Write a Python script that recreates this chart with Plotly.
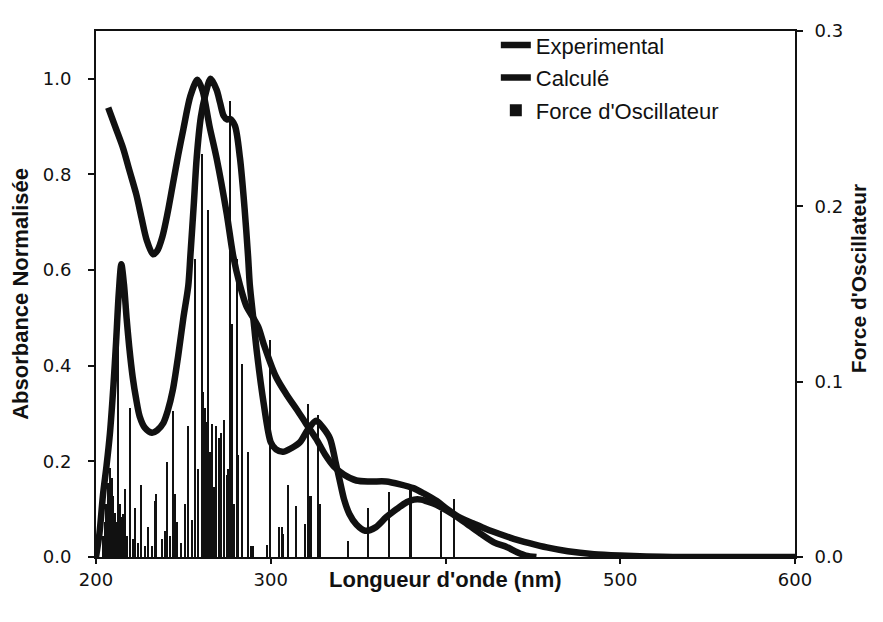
import plotly.graph_objects as go

# ---- Data ----
exp_x = [207, 211, 215.6, 219, 223, 226, 229, 232.6, 235, 238, 241, 244, 247, 250, 254, 258, 261, 265, 269,
         274.8, 278.5, 282.4, 286, 290, 293, 296, 303, 309, 315, 320, 326, 331, 336, 342, 349, 357, 366,
         374, 381.6, 388, 395, 401, 408, 416, 423.6, 431, 439, 448, 458, 470, 485, 500, 515, 530, 560, 600]
exp_y = [0.94, 0.90, 0.854, 0.81, 0.759, 0.71, 0.663, 0.633, 0.64, 0.67, 0.72, 0.78, 0.84, 0.895, 0.964,
         0.998, 0.975, 0.90, 0.834, 0.718, 0.63, 0.568, 0.525, 0.50, 0.48, 0.445, 0.377, 0.34, 0.308, 0.28,
         0.247, 0.215, 0.19, 0.172, 0.16, 0.158, 0.158, 0.152, 0.144, 0.132, 0.117, 0.10, 0.083, 0.07,
         0.058, 0.048, 0.038, 0.029, 0.02, 0.012, 0.006, 0.003, 0.001, 0.0, 0.0, 0.0]

calc_x = [200, 202, 204, 206, 208, 210, 211.5, 213, 214.5, 216, 217.5, 219, 221, 223, 225, 228, 232, 235,
          238.5, 241, 244, 247, 250, 252.8, 254, 256, 257.6, 260, 262.4, 265.6, 269, 271, 273, 275, 276.7,
          279.5, 282.4, 285, 287, 288, 290, 292, 296, 300, 303, 307, 312, 316.7, 321, 326, 330, 334, 337,
          339.6, 342, 345, 349, 354, 360, 366, 372, 378, 382, 386, 389, 393, 397, 404, 412, 420, 428, 435,
          441, 446, 452]
calc_y = [0.0, 0.05, 0.13, 0.19, 0.26, 0.36, 0.45, 0.55, 0.612, 0.57, 0.50, 0.44, 0.376, 0.33, 0.294, 0.27,
          0.26, 0.265, 0.28, 0.305, 0.35, 0.42, 0.5, 0.567, 0.63, 0.74, 0.834, 0.92, 0.964, 1.0, 0.977,
          0.95, 0.923, 0.915, 0.916, 0.902, 0.834, 0.73, 0.63, 0.57, 0.50, 0.43, 0.32, 0.24, 0.225, 0.22,
          0.228, 0.24, 0.265, 0.285, 0.27, 0.247, 0.2, 0.158, 0.12, 0.09, 0.068, 0.055, 0.062, 0.083, 0.10,
          0.115, 0.12, 0.12, 0.117, 0.112, 0.105, 0.09, 0.07, 0.049, 0.03, 0.021, 0.01, 0.003, 0.0]

osc_x = [204.0, 205.0, 206.0, 207.0, 208.0, 209.0, 210.0, 211.0, 212.0, 212.8, 213.8, 215.0, 215.6, 216.6,
         218.0, 219.5, 221.0, 222.3, 224.0, 226.1, 228.0, 230.0, 232.0, 233.8, 234.7, 237.6, 239.5, 240.5,
         242.5, 244.2, 245.2, 246.2, 249.0, 251.0, 252.8, 254.8, 256.7, 258.5, 260.5, 261.4, 262.3, 263.3,
         264.3, 265.3, 266.2, 267.5, 269.0, 270.6, 271.9, 273.2, 274.8, 275.7, 276.7, 277.7, 279.0, 280.8,
         281.6, 283.8, 286.8, 288.7, 290.0, 297.7, 299.6, 305.0, 306.3, 307.0, 310.0, 314.6, 319.8, 321.5,
         322.6, 323.4, 327.2, 328.0, 344.4, 356.0, 367.6, 379.8, 380.4, 397.4, 404.8]
osc_f = [0.012, 0.02, 0.03, 0.042, 0.0506, 0.045, 0.035, 0.025, 0.02, 0.127, 0.03, 0.023, 0.0245, 0.039,
         0.012, 0.085, 0.01, 0.028, 0.008, 0.041, 0.006, 0.017, 0.006, 0.032, 0.036, 0.0105, 0.015, 0.054,
         0.012, 0.083, 0.036, 0.02, 0.008, 0.030, 0.075, 0.021, 0.17, 0.05, 0.23, 0.094, 0.085, 0.077,
         0.198, 0.06, 0.076, 0.04, 0.075, 0.068, 0.071, 0.078, 0.047, 0.05, 0.26, 0.133, 0.03, 0.17,
         0.058, 0.11, 0.06, 0.006, 0.006, 0.0067, 0.124, 0.017, 0.017, 0.013, 0.041, 0.029, 0.019, 0.087,
         0.035, 0.035, 0.081, 0.030, 0.009, 0.028, 0.037, 0.038, 0.038, 0.026, 0.033]

x_tick_vals = [200, 300, 400, 500, 600]
x_tick_text = ["200", "300", "", "500", "600"]
abs_ticks = [0.0, 0.2, 0.4, 0.6, 0.8, 1.0]
osc_ticks = [0.0, 0.1, 0.2, 0.3]

INK = "#111111"
TICKFONT = dict(family="DejaVu Sans", size=18, color=INK)
TITLEFONT = dict(family="Liberation Sans", size=22, color=INK, weight="bold")
RTITLEFONT = dict(family="Liberation Sans", size=21, color=INK, weight="bold")

fig = go.Figure()

fig.add_trace(go.Bar(
    x=osc_x, y=osc_f, width=0.75, name="Force d'Oscillateur",
    marker=dict(color=INK, line=dict(width=0)),
    yaxis="y", legendrank=3, legendgroup="c", showlegend=True,
))
fig.add_trace(go.Scatter(
    x=exp_x, y=exp_y, mode="lines", name="Experimental",
    line=dict(color=INK, width=6.5, shape="spline", smoothing=0.8),
    yaxis="y2", legendrank=1, legendgroup="a",
))
fig.add_trace(go.Scatter(
    x=calc_x, y=calc_y, mode="lines", name="Calculé",
    line=dict(color=INK, width=6.5, shape="spline", smoothing=0.8),
    yaxis="y2", legendrank=2, legendgroup="b",
))

fig.update_layout(
    width=867, height=606,
    margin=dict(l=88, r=80, t=14, b=57),
    paper_bgcolor="white", plot_bgcolor="white",
    bargap=0,
    showlegend=True,
    legend=dict(
        x=0.572, y=1.013, xanchor="left", yanchor="top",
        font=dict(family="Liberation Sans", size=22, color=INK),
        bgcolor="rgba(0,0,0,0)", tracegroupgap=1, itemwidth=30,
    ),
    xaxis=dict(
        range=[200, 600], tickvals=x_tick_vals, ticktext=x_tick_text,
        ticks="outside", ticklen=5, tickwidth=1.5, tickcolor=INK,
        showline=True, linecolor=INK, linewidth=2, mirror=True,
        showgrid=False, zeroline=False, tickfont=TICKFONT,
    ),
    yaxis=dict(
        range=[0, 0.3], tickvals=osc_ticks, tickformat=".1f", side="right",
        ticks="outside", ticklen=6, tickwidth=1.5, tickcolor=INK,
        showline=True, linecolor=INK, linewidth=2,
        showgrid=False, zeroline=False, tickfont=TICKFONT, ticklabelstandoff=8,
    ),
    yaxis2=dict(
        range=[0, 1.1], tickvals=abs_ticks, tickformat=".1f", side="left",
        overlaying="y", anchor="x",
        ticks="outside", ticklen=6, tickwidth=1.5, tickcolor=INK,
        showline=True, linecolor=INK, linewidth=2,
        showgrid=False, zeroline=False, tickfont=TICKFONT, ticklabelstandoff=13,
    ),
    annotations=[
        dict(text="Longueur d'onde (nm)", xref="paper", yref="paper", x=0.5, y=-0.043,
             xanchor="center", yanchor="middle", showarrow=False, font=TITLEFONT),
        dict(text="Absorbance Normalisée", xref="paper", yref="paper", x=-0.109, y=0.5,
             xanchor="center", yanchor="middle", textangle=-90, showarrow=False, font=TITLEFONT),
        dict(text="Force d'Oscillateur", xref="paper", yref="paper", x=1.09, y=0.53,
             xanchor="center", yanchor="middle", textangle=-90, showarrow=False, font=RTITLEFONT),
    ],
)

fig.write_html("out.html")
